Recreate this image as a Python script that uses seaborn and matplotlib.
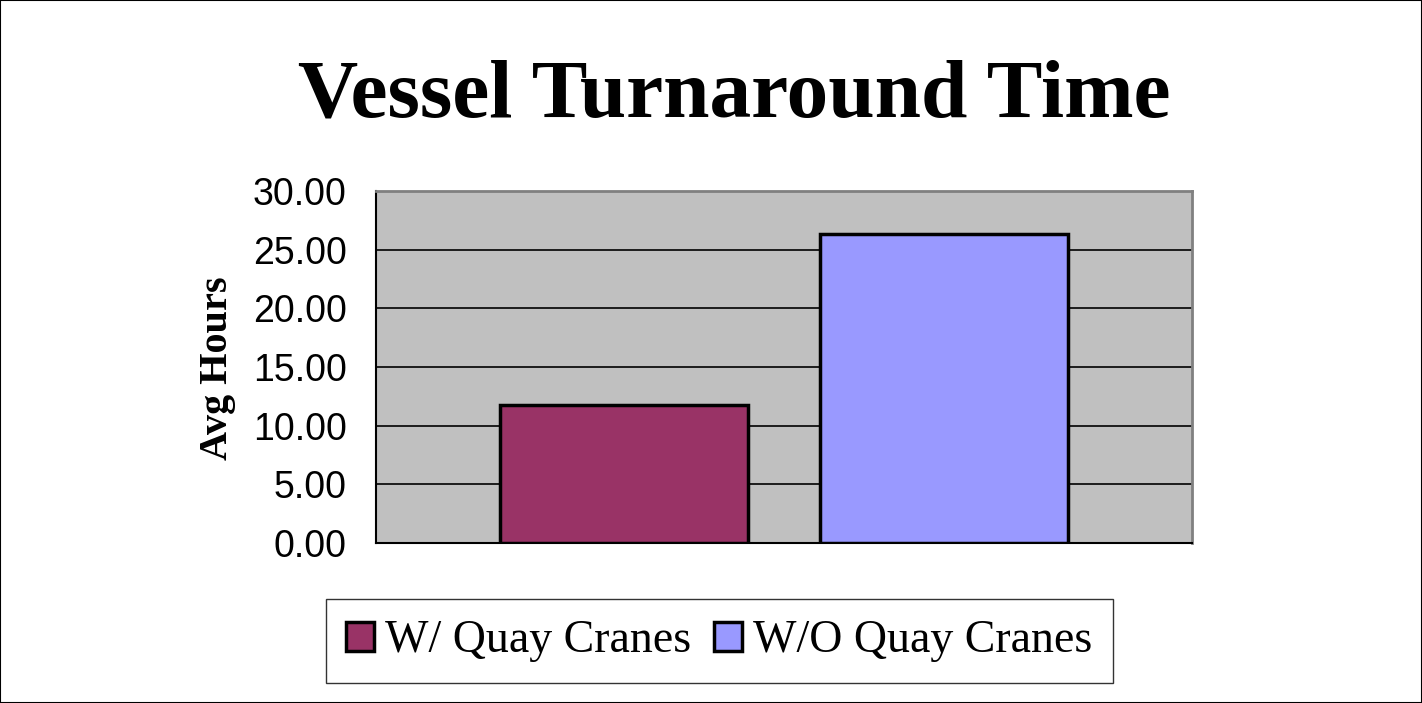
import matplotlib
matplotlib.use("Agg")
import matplotlib.pyplot as plt
import seaborn as sns
from matplotlib.patches import Patch, Rectangle

# data
series = ["W/ Quay Cranes", "W/O Quay Cranes"]
avg_hours = [11.75, 26.35]
colors = ["#993366", "#9999FF"]
yticks = [0, 5, 10, 15, 20, 25, 30]

sns.set_style("white")
plt.rcParams["font.family"] = ["Liberation Sans", "DejaVu Sans"]
plt.rcParams["text.color"] = "black"
plt.rcParams["xtick.color"] = "black"
plt.rcParams["ytick.color"] = "black"

fig = plt.figure(figsize=(14.22, 7.03), dpi=100)
ax = fig.add_axes([0.2644, 0.2276, 0.5739, 0.5007])
ax.set_facecolor("#C0C0C0")

sns.barplot(x=series, y=avg_hours, hue=series, palette=colors, width=0.775,
            saturation=1, edgecolor="black", linewidth=2.5, legend=False,
            ax=ax, zorder=3)

ax.set_xlim(-0.775, 1.775)
ax.set_ylim(0, 30)
ax.set_yticks(yticks)
ax.set_yticklabels([f"{v:.2f}" for v in yticks], fontsize=27)
ax.set_xticks([-0.775, 1.775])
ax.set_xticklabels(["", ""])
ax.tick_params(axis="both", direction="out", length=10, width=1.2, color="black")
ax.tick_params(axis="y", pad=11)
ax.grid(axis="y", color="black", linewidth=1.2, zorder=1)
ax.set_axisbelow(True)
ax.set_xlabel("")
ax.set_ylabel("")

for side in ["top", "right"]:
    ax.spines[side].set_color("#808080")
    ax.spines[side].set_linewidth(2)
ax.spines["left"].set_color("black")
ax.spines["left"].set_linewidth(1.5)
ax.spines["bottom"].set_color("black")
ax.spines["bottom"].set_linewidth(1.5)

fig.text(0.516, 0.862, "Vessel Turnaround Time", ha="center", va="center",
         fontsize=60, fontweight="bold", family="Liberation Serif")
fig.text(0.153, 0.476, "Avg Hours", ha="center", va="center", rotation=90,
         fontsize=29, fontweight="bold", family="Liberation Serif")

handles = [Patch(facecolor=c, edgecolor="black", linewidth=2.5, label=s)
           for c, s in zip(colors, series)]
leg = fig.legend(handles=handles, loc="center", bbox_to_anchor=(0.506, 0.088),
                 ncol=2, frameon=True, fancybox=False, edgecolor="black",
                 prop={"family": "Liberation Serif", "size": 33},
                 handlelength=0.6, handleheight=0.6, handletextpad=0.25,
                 columnspacing=0.5, borderpad=0.45)
leg.get_frame().set_linewidth(1)

fig.patches.append(Rectangle((0, 0), 1, 1, transform=fig.transFigure,
                             fill=False, edgecolor="black", linewidth=1.5))

fig.savefig("out.png", dpi=100)
